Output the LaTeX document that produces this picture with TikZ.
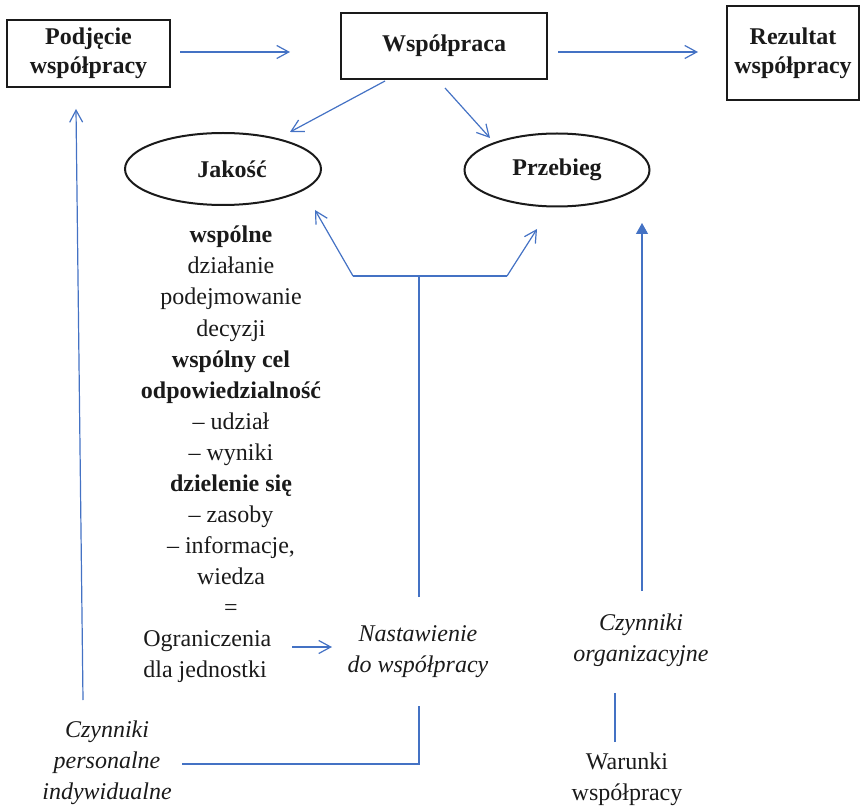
\documentclass[tikz,border=0pt]{standalone}
\usepackage{fontspec}
\setmainfont{Liberation Serif}
\usetikzlibrary{arrows.meta,shapes.geometric}
\definecolor{linkblue}{HTML}{4472C4}
\definecolor{ink}{HTML}{1A1A1A}
\begin{document}
\begin{tikzpicture}[x=0.5pt,y=-0.5pt,
  txt/.style={font=\fontsize{12}{15.5}\selectfont, text=ink, inner sep=0pt, align=center},
  box/.style={draw=ink, line width=1pt, inner sep=0pt, text=ink,
    font=\bfseries\fontsize{12}{14.5}\selectfont, align=center},
  oval/.style={ellipse, draw=ink, line width=1pt, inner sep=0pt, text=ink,
    font=\bfseries\fontsize{12}{14.5}\selectfont},
  link/.style={draw=linkblue, line width=0.6pt},
  barb/.style={link, -{Straight Barb[length=6pt,width=6.5pt]}},
  headarrow/.style={link, -{Triangle[length=5.5pt,width=6pt]}}
]
\useasboundingbox (0,0) rectangle (861,807);

% --- top row of boxes
\node[box, minimum width=81.5pt, minimum height=33.5pt] (pod) at (88.5,53.5) {Podjęcie\\współpracy};
\node[box, minimum width=103pt, minimum height=33pt] (wsp) at (444,46) {Współpraca};
\node[box, minimum width=66pt, minimum height=47pt] (rez) at (793,53) {Rezultat\\współpracy};

% --- ellipses
\node[oval, minimum width=98pt, minimum height=36pt] (jak) at (223,169) {\hspace*{9pt}Jakość};
\node[oval, minimum width=92.5pt, minimum height=36.5pt] (prz) at (557,170) {Przebieg};

% --- central column of features
\foreach \t [count=\i] in {\textbf{wspólne}, działanie, podejmowanie, decyzji,
    \textbf{wspólny cel}, \textbf{odpowiedzialność}, – udział, – wyniki,
    \textbf{dzielenie się}, – zasoby, {– informacje,}, wiedza, =}
  \node[txt, anchor=base] (m\i) at (231,{243+31*(\i-1)}) {\t};

\node[txt, anchor=base west] (ogr1) at (143,646) {Ograniczenia};
\node[txt, anchor=base west] (ogr2) at (143,677) {dla jednostki};

% --- factor labels
\node[txt, font=\itshape\fontsize{12}{15.5}\selectfont] (nas) at (418,652) {Nastawienie\\do współpracy};
\node[txt, font=\itshape\fontsize{12}{15.5}\selectfont] (per) at (107,763) {Czynniki\\personalne\\indywidualne};
\node[txt, font=\itshape\fontsize{12}{15.5}\selectfont] (org) at (641,640) {Czynniki\\organizacyjne};
\node[txt] (war) at (627,779) {Warunki\\współpracy};

% --- connector end points
\coordinate (a1s) at (180,52);  \coordinate (a1e) at (290,52);
\coordinate (a2s) at (558,52);  \coordinate (a2e) at (698,52);
\coordinate (a3s) at (385,81);  \coordinate (a3e) at (290,132);
\coordinate (a4s) at (445,88);  \coordinate (a4e) at (490,138);
\coordinate (nasTop) at (419,597);
\coordinate (fork)   at (419,276);
\coordinate (forkL)  at (353,276);
\coordinate (forkR)  at (507,276);
\coordinate (tipJ)   at (315,210);
\coordinate (tipP)   at (537,229);
\coordinate (ogrS) at (292,647); \coordinate (ogrE) at (332,647);
\coordinate (perS) at (182,764); \coordinate (perC) at (419,764); \coordinate (nasBot) at (419,706);
\coordinate (perUpS) at (83,700); \coordinate (perUpE) at (76,109);
\coordinate (orgS) at (642,591); \coordinate (orgE) at (642,223);
\coordinate (warS) at (615,742); \coordinate (warE) at (615,693);

% --- connectors
\draw[barb] (a1s) -- (a1e);
\draw[barb] (a2s) -- (a2e);
\draw[barb] (a3s) -- (a3e);
\draw[barb] (a4s) -- (a4e);
\draw[link] (nasTop) -- (fork);
\draw[link] (forkL) -- (forkR);
\draw[barb] (forkL) -- (tipJ);
\draw[barb] (forkR) -- (tipP);
\draw[barb] (ogrS) -- (ogrE);
\draw[link] (perS) -- (perC) -- (nasBot);
\draw[barb] (perUpS) -- (perUpE);
\draw[headarrow] (orgS) -- (orgE);
\draw[link] (warS) -- (warE);
\end{tikzpicture}
\end{document}
